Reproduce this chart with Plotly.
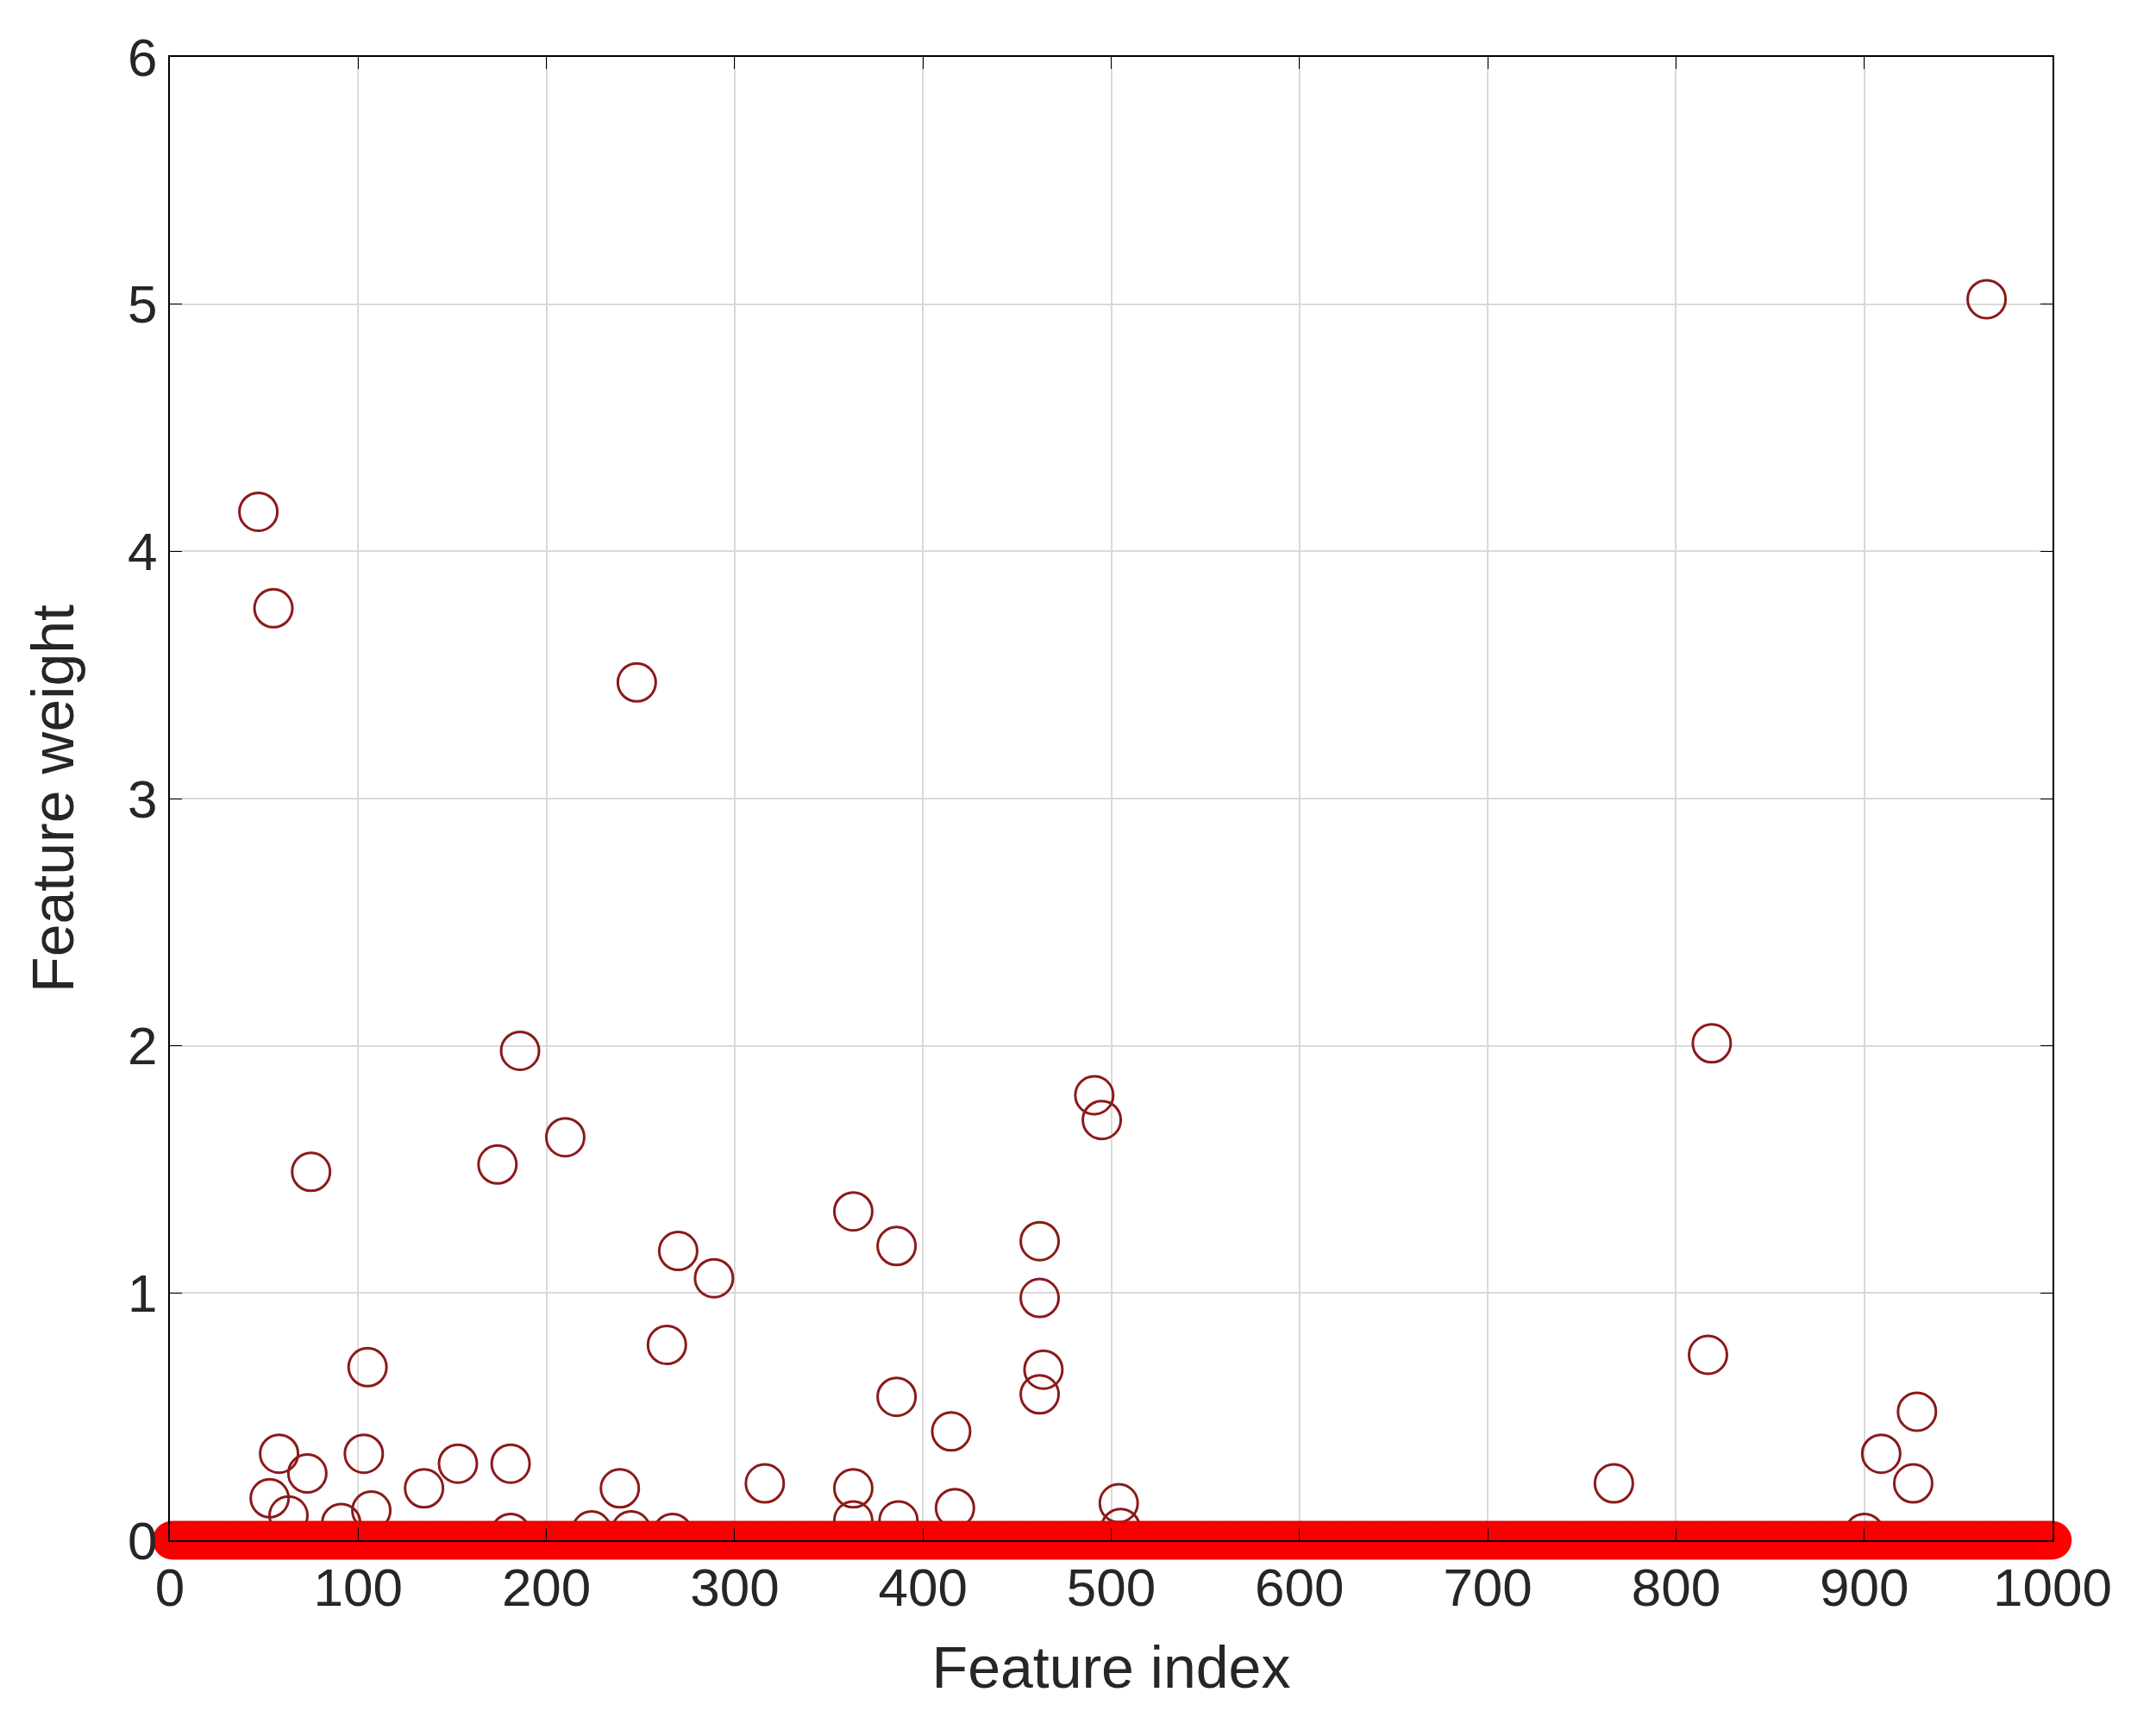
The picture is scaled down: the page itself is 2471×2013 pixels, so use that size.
import numpy as np
import plotly.graph_objects as go

# nonzero feature weights (hollow circles)
idx = [47, 55, 248, 965, 186, 819, 491, 495, 210, 75, 174, 363, 386, 270, 289,
       462, 462, 464, 462, 264, 386, 817, 105, 415, 928, 103, 58, 909, 73, 153,
       181, 135, 239, 316, 363, 767, 926, 53, 107, 504, 417, 63, 91, 387, 363,
       224, 245, 181, 267, 505, 900]
weight = [4.16, 3.77, 3.47, 5.02, 1.98, 2.01, 1.80, 1.70, 1.63, 1.49, 1.52, 1.33, 1.19, 1.17, 1.06,
          1.21, 0.98, 0.69, 0.59, 0.79, 0.58, 0.75, 0.70, 0.44, 0.52, 0.35, 0.35, 0.35, 0.27, 0.31,
          0.31, 0.21, 0.21, 0.23, 0.21, 0.23, 0.23, 0.17, 0.12, 0.15, 0.13, 0.10, 0.07, 0.08, 0.08,
          0.04, 0.04, 0.03, 0.03, 0.05, 0.03]

# all features at zero (filled band)
all_idx = list(range(1, 1001))
zeros = [0] * 1000

fig = go.Figure()
fig.add_trace(go.Scatter(x=idx, y=weight, mode="markers", cliponaxis=False,
                         marker=dict(size=44, color="rgba(0,0,0,0)",
                                     line=dict(color="#8b1a1a", width=3))))
fig.add_trace(go.Scatter(x=all_idx, y=zeros, mode="markers", cliponaxis=False,
                         marker=dict(size=44, color="#ff0000",
                                     line=dict(color="#e00000", width=0.5))))

axis = dict(showline=True, linecolor="black", linewidth=2, mirror="ticks",
            ticks="inside", ticklen=14, tickcolor="black",
            showgrid=True, gridcolor="#d9d9d9", gridwidth=2, zeroline=False,
            tickfont=dict(size=62, color="#262626"))
fig.update_xaxes(axis, range=[0, 1000], dtick=100,
                 title=dict(text="Feature index", font=dict(size=68, color="#262626"), standoff=35))
fig.update_yaxes(axis, range=[0, 6], dtick=1,
                 title=dict(text="Feature weight", font=dict(size=68, color="#262626"), standoff=40))
fig.update_layout(width=2471, height=2013, showlegend=False,
                  plot_bgcolor="white", paper_bgcolor="white",
                  font=dict(family="Liberation Sans, Arial"),
                  margin=dict(l=189, r=99, t=58, b=235))
fig.write_html("out.html")
